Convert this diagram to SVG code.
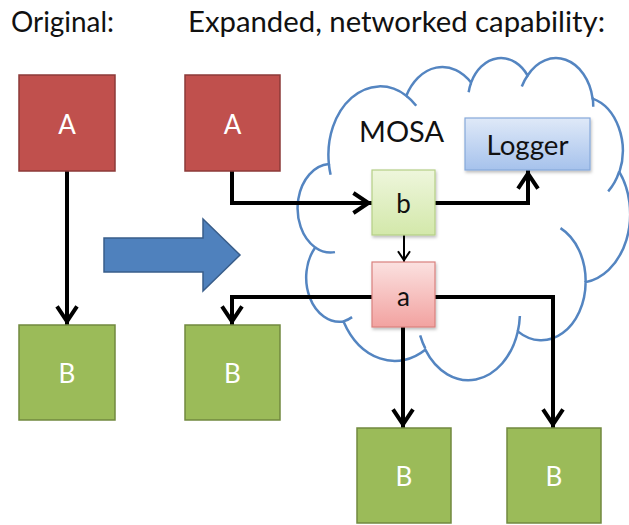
<svg xmlns="http://www.w3.org/2000/svg" width="629" height="525" viewBox="0 0 629 525">
  <style>
    .title { font-family: Lato, "Liberation Sans", sans-serif; font-size: 28px; fill: #111; }
    .lbl-w { font-family: Lato, "Liberation Sans", sans-serif; font-size: 26px; fill: #fff; text-anchor: middle; }
    .lbl-d { font-family: Lato, "Liberation Sans", sans-serif; font-size: 26px; fill: #111; text-anchor: middle; }
    .red { fill: #c0504d; stroke: #8c3a38; stroke-width: 1.5; }
    .green { fill: #9bbb59; stroke: #71893f; stroke-width: 1.5; }
    .conn { fill: none; stroke: #000; stroke-width: 4; stroke-linejoin: miter; }
    .conn-thin { fill: none; stroke: #000; stroke-width: 2; }
    .cloud { fill: #fff; stroke: #5485c1; stroke-width: 2.5; }
    .cloud-in { fill: none; stroke: #5485c1; stroke-width: 2.5; }
  </style>
  <defs>
    <marker id="chev" markerUnits="userSpaceOnUse" viewBox="-25 -15 30 30" markerWidth="30" markerHeight="30" refX="0" refY="0" orient="auto" overflow="visible">
      <path d="M -18.6,-10 L -3.6,0 L -18.6,10" fill="none" stroke="#000" stroke-width="4" stroke-linejoin="miter"/>
    </marker>
    <marker id="chev-sm" markerUnits="userSpaceOnUse" viewBox="-15 -10 20 20" markerWidth="20" markerHeight="20" refX="0" refY="0" orient="auto" overflow="visible">
      <path d="M -10.8,-6 L -1.8,0 L -10.8,6" fill="none" stroke="#000" stroke-width="2" stroke-linejoin="miter"/>
    </marker>
    <linearGradient id="g-green" x1="0" y1="0" x2="0" y2="1">
      <stop offset="0" stop-color="#eef6dc"/>
      <stop offset="1" stop-color="#d3e8aa"/>
    </linearGradient>
    <linearGradient id="g-red" x1="0" y1="0" x2="0" y2="1">
      <stop offset="0" stop-color="#fbe1e0"/>
      <stop offset="1" stop-color="#f2a2a0"/>
    </linearGradient>
    <linearGradient id="g-blue" x1="0" y1="0" x2="0" y2="1">
      <stop offset="0" stop-color="#dfe9f8"/>
      <stop offset="1" stop-color="#a6c2ec"/>
    </linearGradient>
    <filter id="shadow" x="-20%" y="-20%" width="150%" height="150%">
      <feDropShadow dx="1" dy="2" stdDeviation="1.5" flood-color="#000" flood-opacity="0.25"/>
    </filter>
  </defs>

  <!-- headings -->
  <text class="title" x="11" y="32" textLength="103" lengthAdjust="spacingAndGlyphs">Original:</text>
  <text class="title" x="188" y="32" textLength="417" lengthAdjust="spacingAndGlyphs">Expanded, networked capability:</text>

  <!-- MOSA cloud -->
  <g id="mosa">
    <path class="cloud" d="M 328.88,164.11
      A 51.74 68.50 0 0 1 406.30,95.76
      A 40.86 54.17 0 0 1 471.07,82.58
      A 33.44 44.31 0 0 1 527.60,75.51
      A 37.21 49.16 0 0 1 592.62,98.57
      A 40.86 54.21 0 0 1 619.44,172.24
      A 51.91 68.72 0 0 1 585.62,282.14
      A 44.32 58.64 0 0 1 517.82,331.41
      A 51.73 68.69 0 0 1 425.29,349.67
      A 59.15 78.58 0 0 1 343.48,321.39
      A 33.41 44.11 0 0 1 315.21,247.43
      A 33.29 44.31 0 0 1 328.88,164.11 Z"/>
    <path class="cloud-in" d="M 334.96,252.11 A 33.29 44.31 0 0 1 315.21,247.43
      M 352.08,317.13 A 33.41 44.11 0 0 1 343.48,321.39
      M 425.26,348.37 A 51.73 68.69 0 0 1 420.15,335.41
      M 519.87,316.02 A 51.73 68.69 0 0 1 517.82,331.41
      M 560.50,228.09 A 44.32 58.64 0 0 1 585.62,282.14
      M 619.26,171.44 A 40.86 54.21 0 0 1 608.17,191.38
      M 592.64,97.44 A 37.21 49.16 0 0 1 593.22,106.86
      M 521.80,86.46 A 37.21 49.16 0 0 1 527.60,75.51
      M 468.65,92.18 A 33.44 44.31 0 0 1 471.07,82.58
      M 406.27,95.70 A 51.74 68.50 0 0 1 416.23,105.75
      M 330.62,174.69 A 51.74 68.50 0 0 1 328.88,164.11"/>
    <text class="title" x="359" y="142" textLength="85" lengthAdjust="spacingAndGlyphs">MOSA</text>
  </g>

  <!-- transition arrow -->
  <g id="transition">
    <polygon points="104,238 203,238 203,219 240,255 203,291 203,272 104,272" fill="#4f81bd" stroke="#385d8a" stroke-width="1.5"/>
  </g>

  <!-- connectors -->
  <g id="connectors">
    <path class="conn" d="M 67,171 V 325" marker-end="url(#chev)"/>
    <path class="conn" d="M 232,171 V 203 H 372" marker-end="url(#chev)"/>
    <path class="conn" d="M 435,203 H 528 V 170" marker-end="url(#chev)"/>
    <path class="conn-thin" d="M 404,235 V 262" marker-end="url(#chev-sm)"/>
    <path class="conn" d="M 372,297 H 232 V 325" marker-end="url(#chev)"/>
    <path class="conn" d="M 435,297 H 553 V 428" marker-end="url(#chev)"/>
    <path class="conn" d="M 403,327 V 428" marker-end="url(#chev)"/>
  </g>

  <!-- original pair -->
  <g id="A1">
    <rect class="red" x="19" y="75" width="96" height="96"/>
    <text class="lbl-w" x="67" y="134">A</text>
  </g>
  <g id="B1">
    <rect class="green" x="19" y="325" width="96" height="95"/>
    <text class="lbl-w" x="67" y="383">B</text>
  </g>

  <!-- expanded system -->
  <g id="A2">
    <rect class="red" x="185" y="75" width="95" height="96"/>
    <text class="lbl-w" x="232.5" y="134">A</text>
  </g>
  <g id="B2">
    <rect class="green" x="185" y="325" width="95" height="95"/>
    <text class="lbl-w" x="232.5" y="383">B</text>
  </g>
  <g id="B3">
    <rect class="green" x="357" y="428" width="94" height="95"/>
    <text class="lbl-w" x="404" y="486">B</text>
  </g>
  <g id="B4">
    <rect class="green" x="507" y="428" width="94" height="95"/>
    <text class="lbl-w" x="554" y="486">B</text>
  </g>
  <g id="b">
    <rect x="372" y="170" width="63" height="65" fill="url(#g-green)" stroke="#b5cf86" stroke-width="1.2" filter="url(#shadow)"/>
    <text class="lbl-d" x="403.5" y="213">b</text>
  </g>
  <g id="a">
    <rect x="372" y="262" width="63" height="65" fill="url(#g-red)" stroke="#d9807e" stroke-width="1.2" filter="url(#shadow)"/>
    <text class="lbl-d" x="403.5" y="306">a</text>
  </g>
  <g id="logger">
    <rect x="465" y="118" width="125" height="52" fill="url(#g-blue)" stroke="#86a9da" stroke-width="1.2" filter="url(#shadow)"/>
    <text class="lbl-d" x="527.5" y="154.5" textLength="82" lengthAdjust="spacingAndGlyphs">Logger</text>
  </g>
</svg>
